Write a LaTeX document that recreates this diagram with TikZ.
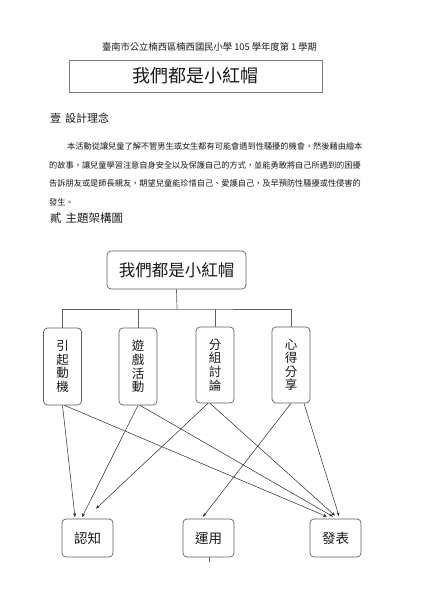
\documentclass[tikz,border=0pt]{standalone}
\usepackage{fontspec}
\setmainfont{Noto Sans CJK TC}
\usetikzlibrary{arrows.meta,calc}
\XeTeXlinebreaklocale "zh"
\XeTeXlinebreakskip=0pt plus 1pt
\definecolor{boxline}{HTML}{606060}
\definecolor{conn}{HTML}{2A2A2A}
\definecolor{txt}{HTML}{1A1A1A}
\begin{document}
\begin{tikzpicture}[x=1pt,y=-1pt,
  rbox/.style={draw=boxline,line width=0.7pt,rounded corners=4pt,inner sep=0pt,text=txt},
  vbox/.style={rbox,minimum width=38pt,minimum height=77pt,font=\fontsize{12.5}{13.6}\selectfont,align=center},
  hbox/.style={rbox,minimum width=51pt,minimum height=38pt,font=\fontsize{13.5}{15}\selectfont},
  arr/.style={draw=conn,line width=0.5pt,-{Stealth[length=4pt,width=3pt]}},
  bus/.style={draw=boxline,line width=0.7pt},
  para/.style={anchor=west,inner sep=0pt,font=\fontsize{8.2}{9}\selectfont,text=txt}
]
\useasboundingbox (0,0) rectangle (420,593);
\fill[white] (0,0) rectangle (420,593);

\node[inner sep=0pt,font=\fontsize{9.3}{10}\selectfont,text=txt] (header) at (209.5,47) {臺南市公立楠西區楠西國民小學 105 學年度第 1 學期};
\node[draw=boxline!80,line width=0.8pt,minimum width=253pt,minimum height=32pt,inner sep=0pt,font=\fontsize{18}{20}\selectfont,text=txt] (title) at (195.5,76) {我們都是小紅帽};

\node[anchor=west,inner sep=0pt,font=\fontsize{11}{12}\selectfont,text=txt] (s1) at (50,118) {壹\hspace{4pt}設計理念};
\node[para] (p1) at (67,146) {\makebox[301pt][s]{本活動從讓兒童了解不管男生或女生都有可能會遇到性騷擾的機會，然後藉由繪本}};
\node[para] (p2) at (49,165) {\makebox[319pt][s]{的故事，讓兒童學習注意自身安全以及保護自己的方式，並能勇敢將自己所遇到的困擾}};
\node[para] (p3) at (49,183.5) {\makebox[319pt][s]{告訴朋友或是師長親友，期望兒童能珍惜自己、愛護自己，及早預防性騷擾或性侵害的}};
\node[para] (p4) at (49,202) {發生。};
\node[anchor=west,inner sep=0pt,font=\fontsize{11.5}{12}\selectfont,text=txt] (s2) at (50,218) {貳\hspace{4pt}主題架構圖};

\node[rbox,minimum width=139pt,minimum height=38pt,font=\fontsize{16.5}{18}\selectfont] (top) at (176.5,270) {我們都是小紅帽};

\node[vbox] (v1) at (62.5,366.5) {引\\起\\動\\機};
\node[vbox] (v2) at (138,366.5) {遊\\戲\\活\\動};
\node[vbox,minimum height=76pt] (v3) at (215,365) {分\\組\\討\\論};
\node[vbox,minimum height=76pt] (v4) at (291,365) {心\\得\\分\\享};

\node[hbox] (b1) at (87.5,538) {認知};
\node[hbox] (b2) at (208.5,538) {運用};
\node[hbox] (b3) at (335.5,538) {發表};

\coordinate (busc) at (177,309);
\draw[bus] (top.south) -- (busc);
\draw[bus] (v1.north) |- (busc) -| (v4.north);
\draw[bus] (v2.north) -- (v2.north |- busc);
\draw[bus] (v3.north) -- (v3.north |- busc);

\draw[arr] (v1.south) -- ([xshift=-12.5pt,yshift=1.5pt]b1.north);
\draw[arr] ([xshift=2pt]v1.south) -- ([xshift=-8.5pt,yshift=2pt]b3.north);
\draw[arr] (v2.south) -- ([xshift=-5.5pt,yshift=1.5pt]b1.north);
\draw[arr] ([xshift=2pt]v2.south) -- ([xshift=-2.5pt,yshift=2pt]b3.north);
\draw[arr] ([xshift=-7pt]v3.south) -- ([xshift=8.5pt,yshift=10pt]b1.north);
\draw[arr] ([xshift=-5pt]v3.south) -- ([xshift=-0.5pt,yshift=3pt]b3.north);
\draw[arr] (v4.south) -- ([xshift=-5.5pt,yshift=2pt]b2.north);
\draw[arr] ([xshift=13pt]v4.south) -- ([xshift=3.5pt,yshift=2.5pt]b3.north);

\coordinate (tick) at (209,562);
\draw[draw=boxline,line width=0.7pt] (b2.south) ++(0.5,0) coordinate (tk) -- (tk |- tick);
\end{tikzpicture}
\end{document}
